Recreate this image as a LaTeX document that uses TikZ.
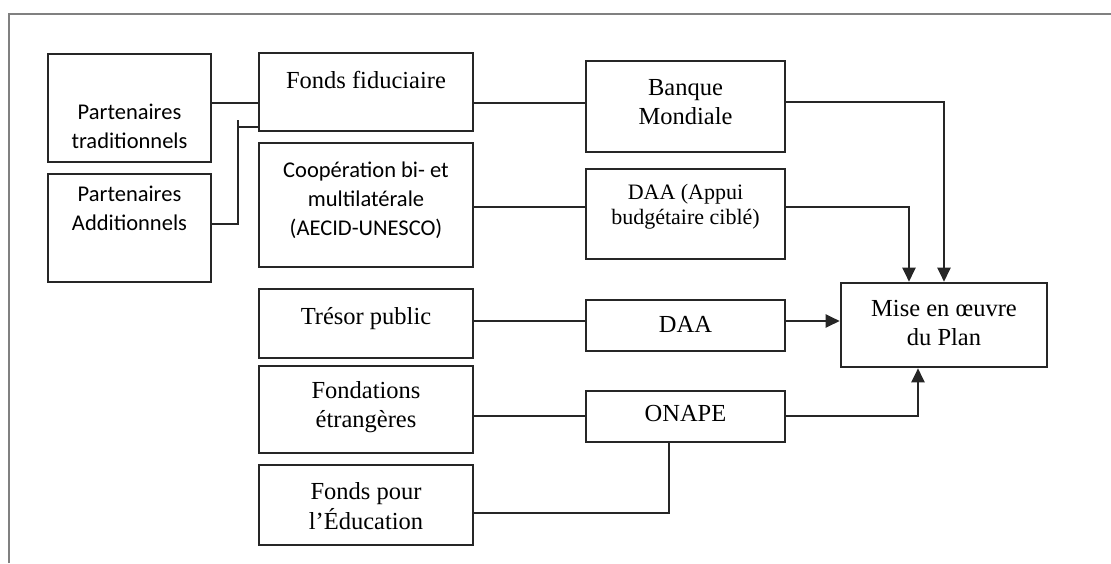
\documentclass[tikz,border=0pt]{standalone}
\usepackage{fontspec}
\setmainfont{Liberation Serif}
\newfontfamily\calib{Carlito}
\usetikzlibrary{arrows.meta,calc}
\begin{document}
\begin{tikzpicture}[x=1pt,y=-1pt,
  box/.style={draw=black!85,line width=2.6pt,inner sep=0pt,minimum width=#1},
  box/.default=214pt,
  ser/.style={font=\fontsize{24.5}{29.5}\selectfont,align=center,inner sep=0pt},
  sers/.style={font=\fontsize{22}{25}\selectfont,align=center,inner sep=0pt},
  san/.style={font=\calib\fontsize{22.5}{29}\selectfont,align=center,inner sep=0pt},
  con/.style={draw=black!85,line width=2.2pt},
  arr/.style={con,-{Triangle[length=14pt,width=13pt]}}]
\useasboundingbox (0,0) rectangle (1111,563);
% partial frame
\draw[gray,line width=1.1pt] (9,563) -- (9,14) -- (1111,14);
% boxes
\node[box=163pt,minimum height=108pt] (pt) at (129.5,108) {};
\node[box=163pt,minimum height=108pt] (pa) at (129.5,228) {};
\node[box,minimum height=78pt] (ff) at (366,92) {};
\node[box,minimum height=124pt] (coop) at (366,205) {};
\node[box,minimum height=69pt] (tp) at (366,323.5) {};
\node[box,minimum height=87pt] (fe) at (366,409.5) {};
\node[box,minimum height=80pt] (fedu) at (366,505) {};
\node[box=199pt,minimum height=91pt] (bm) at (685.5,106.5) {};
\node[box=199pt,minimum height=90pt] (daa1) at (685.5,214) {};
\node[box=199pt,minimum height=51pt] (daa2) at (685.5,325.5) {};
\node[box=199pt,minimum height=51pt] (onape) at (685.5,416.5) {};
\node[box=206pt,minimum height=84pt] (mise) at (944,325) {};
% texts
\node[san] (tpt) at (129.5,126) {Partenaires\\traditionnels};
\node[san] (tpa) at (129.5,208) {Partenaires\\Additionnels};
\node[ser] (tff) at (366,80) {Fonds fiduciaire};
\node[san] (tcoop) at (366,200) {Coopération bi- et\\multilatérale\\(AECID-UNESCO)};
\node[ser] (ttp) at (366,319) {Trésor public};
\node[ser] (tfe) at (366,407) {Fondations\\étrangères};
\node[ser] (tfedu) at (366,506) {Fonds pour\\l’Éducation};
\node[ser] (tbm) at (685.5,102) {Banque\\Mondiale};
\node[sers] (tdaa1) at (685.5,207) {DAA (Appui\\budgétaire ciblé)};
\node[ser] (tdaa2) at (685.5,324) {DAA};
\node[ser] (tonape) at (685.5,414) {ONAPE};
\node[ser] (tmise) at (944,323) {Mise en œuvre\\du Plan};
% connectors
\coordinate (j) at (238,127);
\coordinate (jt) at (238,120);
\draw[con] (pt.east |- 0,103) -- (ff.west |- 0,103);
\draw[con] (pa.east |- 0,224) -| (jt);
\draw[con] (j) -- (ff.west |- j);
\draw[con] (ff.east |- 0,103) -- (bm.west |- 0,103);
\draw[con] (coop.east |- 0,207) -- (daa1.west |- 0,207);
\draw[arr] (bm.east |- 0,102) -| (mise.north);
\draw[arr] (daa1.east |- 0,207) -| (mise.north -| 909,0);
\draw[con] (tp.east |- 0,321) -- (daa2.west |- 0,321);
\draw[arr] (daa2.east |- 0,321) -- (mise.west |- 0,321);
\draw[con] (fe.east |- 0,416) -- (onape.west |- 0,416);
\draw[arr] (onape.east |- 0,416) -| (mise.south -| 918,0);
\draw[con] (fedu.east |- 0,513) -| (onape.south -| 669,0);
\end{tikzpicture}
\end{document}
